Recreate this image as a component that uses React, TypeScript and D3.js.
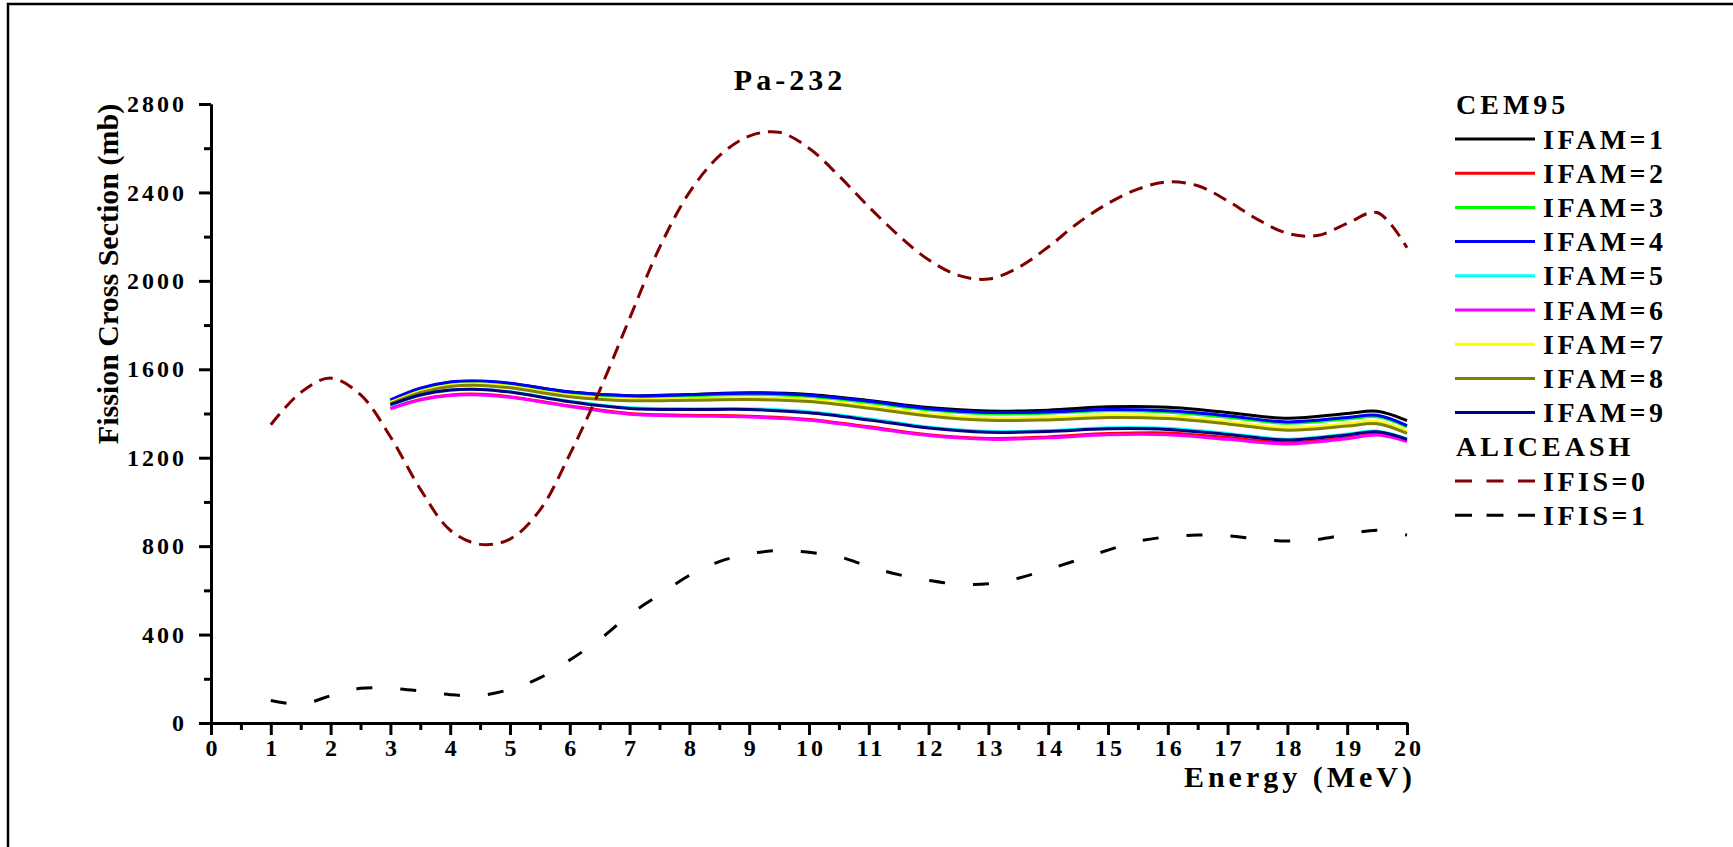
import React, { useEffect, useRef } from 'react';
import * as d3 from 'd3';

// CEM95 runs (IFAM = 1..9), energies in MeV, cross sections in mb
const energyCem = [3, 3.5, 4, 4.5, 5, 6, 7, 8, 9, 10, 11, 12, 13, 14, 15, 16, 17, 18, 19, 19.5, 20];
const ifam1 = [1458, 1512, 1541, 1545, 1536, 1497, 1480, 1486, 1494, 1486, 1459, 1427, 1411, 1415, 1430, 1428, 1405, 1378, 1400, 1410, 1368];
const ifam2 = [1424, 1464, 1484, 1487, 1476, 1434, 1400, 1392, 1388, 1373, 1340, 1304, 1287, 1294, 1309, 1312, 1291, 1268, 1290, 1305, 1276];
const ifam3 = [1457, 1509, 1537, 1541, 1531, 1491, 1474, 1479, 1486, 1477, 1449, 1416, 1399, 1401, 1412, 1406, 1383, 1356, 1375, 1385, 1340];
const ifam4 = [1462, 1515, 1543, 1547, 1537, 1497, 1480, 1485, 1492, 1483, 1455, 1422, 1405, 1407, 1418, 1412, 1390, 1362, 1382, 1392, 1345];
const ifam5 = [1436, 1482, 1505, 1509, 1498, 1456, 1427, 1422, 1422, 1408, 1376, 1339, 1319, 1323, 1336, 1333, 1310, 1284, 1307, 1320, 1286];
const ifam6 = [1421, 1461, 1481, 1484, 1473, 1432, 1397, 1389, 1384, 1369, 1336, 1300, 1283, 1290, 1304, 1304, 1283, 1262, 1286, 1303, 1273];
const ifam7 = [1450, 1500, 1528, 1533, 1522, 1482, 1464, 1467, 1470, 1461, 1432, 1397, 1378, 1380, 1391, 1386, 1362, 1334, 1353, 1363, 1320];
const ifam8 = [1444, 1494, 1522, 1527, 1516, 1476, 1458, 1460, 1463, 1454, 1424, 1389, 1369, 1371, 1382, 1377, 1353, 1324, 1343, 1354, 1310];
const ifam9 = [1440, 1484, 1506, 1509, 1497, 1453, 1423, 1418, 1418, 1403, 1371, 1334, 1315, 1319, 1331, 1328, 1305, 1280, 1303, 1317, 1283];

// ALICEASH runs
const energyAlice = [1, 1.5, 2, 2.5, 3, 3.5, 4, 4.5, 5, 5.5, 6, 6.5, 7, 7.5, 8, 8.5, 9, 9.5, 10, 10.5, 11, 11.5, 12, 12.5, 13, 13.5, 14, 14.5, 15, 15.5, 16, 16.5, 17, 17.5, 18, 18.5, 19, 19.5, 20];
const ifis0 = [1349, 1495, 1560, 1485, 1295, 1058, 872, 808, 832, 963, 1215, 1505, 1830, 2150, 2400, 2565, 2655, 2672, 2600, 2475, 2335, 2205, 2095, 2025, 2008, 2060, 2153, 2262, 2350, 2415, 2448, 2430, 2362, 2278, 2215, 2205, 2260, 2309, 2150];
const ifis1 = [102, 85, 123, 157, 157, 145, 128, 125, 152, 204, 285, 378, 490, 580, 668, 730, 765, 780, 772, 752, 708, 671, 645, 628, 630, 655, 695, 738, 782, 822, 842, 850, 847, 832, 823, 830, 853, 872, 850];

const xTicks = [0, 1, 2, 3, 4, 5, 6, 7, 8, 9, 10, 11, 12, 13, 14, 15, 16, 17, 18, 19, 20];
const yTicks = [0, 400, 800, 1200, 1600, 2000, 2400, 2800];

const cemNames = ['IFAM=1', 'IFAM=2', 'IFAM=3', 'IFAM=4', 'IFAM=5', 'IFAM=6', 'IFAM=7', 'IFAM=8', 'IFAM=9'];
const cemColors = ['#000000', '#ff0000', '#00ff00', '#0000ff', '#00ffff', '#ff00ff', '#ffff00', '#808000', '#000080'];
const aliceNames = ['IFIS=0', 'IFIS=1'];
const aliceColors = ['#800000', '#000000'];

const FONT = "'Liberation Serif', 'Times New Roman', serif";

function App() {
    const ref = useRef<SVGSVGElement | null>(null);

    useEffect(() => {
        const width = 1733;
        const height = 847;
        const svg = d3.select(ref.current);
        svg.selectAll('*').remove();

        const x = d3.scaleLinear().domain([0, 20]).range([211, 1407]);
        const y = d3.scaleLinear().domain([0, 2800]).range([723, 104]);

        // page frame
        svg.append('rect')
            .attr('x', 8).attr('y', 4)
            .attr('width', width + 20).attr('height', height + 20)
            .attr('fill', 'none').attr('stroke', '#000').attr('stroke-width', 2.5);

        const cemSeries = [ifam1, ifam2, ifam3, ifam4, ifam5, ifam6, ifam7, ifam8, ifam9];
        const aliceSeries = [ifis0, ifis1];

        const line = d3.line<[number, number]>()
            .x(d => x(d[0]))
            .y(d => y(d[1]))
            .curve(d3.curveCatmullRom.alpha(0.5));

        cemSeries.forEach((vals, i) => {
            svg.append('path')
                .attr('d', line(energyCem.map((e, j) => [e, vals[j]] as [number, number])))
                .attr('fill', 'none')
                .attr('stroke', cemColors[i])
                .attr('stroke-width', 3);
        });

        const plotDash = ['14,8', '16,28'];
        aliceSeries.forEach((vals, i) => {
            svg.append('path')
                .attr('d', line(energyAlice.map((e, j) => [e, vals[j]] as [number, number])))
                .attr('fill', 'none')
                .attr('stroke', aliceColors[i])
                .attr('stroke-width', 3)
                .attr('stroke-dasharray', plotDash[i]);
        });

        // axes
        const styleAxis = (g: d3.Selection<SVGGElement, unknown, null, undefined>) => {
            g.select('.domain').attr('stroke-width', 3);
            g.selectAll('.tick line').attr('stroke-width', 3);
            g.selectAll('.tick text')
                .attr('font-family', FONT)
                .attr('font-weight', 'bold')
                .attr('font-size', 24)
                .attr('letter-spacing', 3)
                .attr('fill', '#000');
        };

        const xMinor = svg.append('g').attr('transform', `translate(0,${y(0)})`)
            .call(d3.axisBottom(x).tickValues(d3.range(0.5, 20, 1)).tickSize(7).tickSizeOuter(0).tickFormat(() => ''));
        styleAxis(xMinor);
        const xAxis = svg.append('g').attr('transform', `translate(0,${y(0)})`)
            .call(d3.axisBottom(x).tickValues(xTicks).tickSize(12).tickPadding(4).tickSizeOuter(0).tickFormat(d3.format('d')));
        styleAxis(xAxis);
        xAxis.selectAll('.tick text').attr('dx', 1.5);

        const yMinor = svg.append('g').attr('transform', `translate(${x(0)},0)`)
            .call(d3.axisLeft(y).tickValues(d3.range(200, 2800, 400)).tickSize(7).tickSizeOuter(0).tickFormat(() => ''));
        styleAxis(yMinor);
        const yAxis = svg.append('g').attr('transform', `translate(${x(0)},0)`)
            .call(d3.axisLeft(y).tickValues(yTicks).tickSize(12).tickPadding(12).tickSizeOuter(0).tickFormat(d3.format('d')));
        styleAxis(yAxis);

        // titles
        svg.append('text')
            .attr('x', 790).attr('y', 90)
            .attr('text-anchor', 'middle')
            .attr('font-family', FONT).attr('font-weight', 'bold')
            .attr('font-size', 30).attr('letter-spacing', 4)
            .text('Pa-232');

        svg.append('text')
            .attr('x', 1416).attr('y', 787)
            .attr('text-anchor', 'end')
            .attr('font-family', FONT).attr('font-weight', 'bold')
            .attr('font-size', 30).attr('letter-spacing', 4)
            .text('Energy (MeV)');

        svg.append('text')
            .attr('transform', `translate(118,274) rotate(-90)`)
            .attr('text-anchor', 'middle')
            .attr('font-family', FONT).attr('font-weight', 'bold')
            .attr('font-size', 30)
            .text('Fission Cross Section (mb)');

        // legend
        const lg = svg.append('g');
        const header = (label: string, yy: number) => lg.append('text')
            .attr('x', 1456).attr('y', yy)
            .attr('font-family', FONT).attr('font-weight', 'bold')
            .attr('font-size', 28).attr('letter-spacing', 4)
            .text(label);
        const item = (label: string, color: string, yy: number, dash: string | null) => {
            lg.append('line')
                .attr('x1', 1455).attr('x2', 1535)
                .attr('y1', yy).attr('y2', yy)
                .attr('stroke', color).attr('stroke-width', 3)
                .attr('stroke-dasharray', dash);
            lg.append('text')
                .attr('x', 1543).attr('y', yy + 9.5)
                .attr('font-family', FONT).attr('font-weight', 'bold')
                .attr('font-size', 28).attr('letter-spacing', 3.5)
                .text(label);
        };
        const rowH = 34.2;
        header('CEM95', 114);
        cemNames.forEach((n, i) => item(n, cemColors[i], 139 + i * rowH, null));
        header('ALICEASH', 456);
        aliceNames.forEach((n, i) => item(n, aliceColors[i], 481 + i * rowH, '17,14.5'));

        return () => {
            d3.select(ref.current).selectAll('*').remove();
        };
    }, []);

    return (
        <div style={{ position: 'absolute', left: 0, top: 0 }}>
            <svg ref={ref} width={1733} height={847} style={{ display: 'block', background: '#fff' }}></svg>
        </div>
    );
}

export default App;
